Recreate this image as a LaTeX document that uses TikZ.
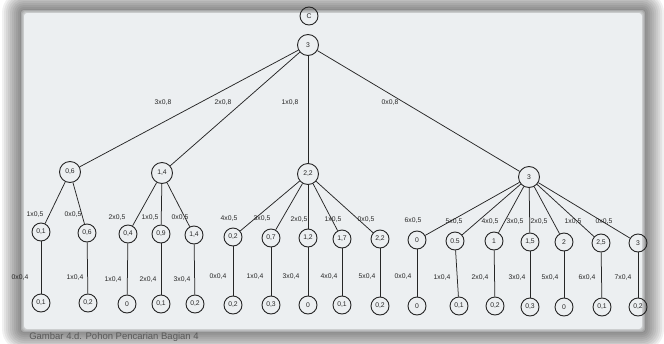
\documentclass[tikz,border=0pt]{standalone}
\usepackage{fontspec}
\setmainfont{Liberation Sans}
\definecolor{paper}{HTML}{ECEFF1}
\definecolor{ink}{HTML}{262626}
\begin{document}
\begin{tikzpicture}[x=1pt,y=-1pt,
  nd/.style={circle,draw=ink,line width=0.9pt,inner sep=0pt,minimum size=18pt,
    font=\fontsize{6.8}{7}\selectfont,text=ink},
  bignd/.style={nd,minimum size=21pt},
  ed/.style={draw=ink,line width=0.75pt},
  lb/.style={font=\fontsize{6.8}{7}\selectfont,text=ink,inner sep=0pt}]
\useasboundingbox (0,0) rectangle (664,343);
\fill[white] (0,0) rectangle (664,343);
\foreach \d in {22,20,...,2}
  \fill[black,opacity=0.055,rounded corners=\d pt] (24-\d,13-\d) rectangle (642+\d,329+\d);
\foreach \d in {1,2,3}
  \fill[paper,opacity=0.3,rounded corners=3pt] (24-\d,13-\d) rectangle (642+\d,329+\d);
\fill[paper,rounded corners=3pt] (24,13) rectangle (642,329);

% root
\node[nd,minimum size=18pt] (C) at (309,16) {C};
\node[bignd] (r) at (308,45) {3};
% level 1
\node[bignd] (a) at (70,172) {0,6};
\node[bignd] (b) at (162,173) {1,4};
\node[bignd] (c) at (308,174) {2,2};
\node[bignd] (d) at (529,177) {3};
% level 2
\node[nd] (a1) at (41,232) {0,1};
\node[nd] (a2) at (87,233) {0,6};
\node[nd] (b1) at (128,234) {0,4};
\node[nd] (b2) at (161,234) {0,9};
\node[nd] (b3) at (194,235) {1,4};
\node[nd] (c1) at (233,237) {0,2};
\node[nd] (c2) at (271,238) {0,7};
\node[nd] (c3) at (308,238) {1,2};
\node[nd] (c4) at (342,239) {1,7};
\node[nd] (c5) at (380,239) {2,2};
\node[nd] (d1) at (417,240) {0};
\node[nd] (d2) at (455,241) {0.5};
\node[nd] (d3) at (494,241) {1};
\node[nd] (d4) at (530,242) {1,5};
\node[nd] (d5) at (564,242) {2};
\node[nd] (d6) at (601,243) {2,5};
\node[nd] (d7) at (638,243) {3};
% level 3
\node[nd] (a1x) at (41,303) {0,1};
\node[nd] (a2x) at (88,303) {0,2};
\node[nd] (b1x) at (127,304) {0};
\node[nd] (b2x) at (161,304) {0,1};
\node[nd] (b3x) at (195,304) {0,2};
\node[nd] (c1x) at (233,305) {0,2};
\node[nd] (c2x) at (271,305) {0,3};
\node[nd] (c3x) at (308,305) {0};
\node[nd] (c4x) at (342,305) {0,1};
\node[nd] (c5x) at (380,306) {0,2};
\node[nd] (d1x) at (417,306) {0};
\node[nd] (d2x) at (459,306) {0,1};
\node[nd] (d3x) at (495,306) {0,2};
\node[nd] (d4x) at (530,307) {0,3};
\node[nd] (d5x) at (564,307) {0};
\node[nd] (d6x) at (602,307) {0,1};
\node[nd] (d7x) at (638,307) {0,2};

% edges level 1
\foreach \t in {a,b,c,d} \draw[ed] (r) -- (\t);
% edges level 2
\foreach \t in {a1,a2} \draw[ed] (a) -- (\t);
\foreach \t in {b1,b2,b3} \draw[ed] (b) -- (\t);
\foreach \t in {c1,c2,c3,c4,c5} \draw[ed] (c) -- (\t);
\foreach \t in {d1,d2,d3,d4,d5,d6,d7} \draw[ed] (d) -- (\t);
% edges level 3
\foreach \t in {a1,a2,b1,b2,b3,c1,c2,c3,c4,c5,d1,d2,d3,d4,d5,d6,d7}
  \draw[ed] (\t) -- (\t x);

% labels level 1
\node[lb] at (163,103) {3x0,8};
\node[lb] at (223,103) {2x0,8};
\node[lb] at (290,103) {1x0,8};
\node[lb] at (390,103) {0x0,8};
% labels level 2
\node[lb] at (35,215) {1x0,5};
\node[lb] at (73,215) {0x0,5};
\node[lb] at (117,218) {2x0,5};
\node[lb] at (150,218) {1x0,5};
\node[lb] at (180,218) {0x0,5};
\node[lb] at (229,219) {4x0,5};
\node[lb] at (262,219) {3x0,5};
\node[lb] at (299,220) {2x0,5};
\node[lb] at (333,220) {1x0,5};
\node[lb] at (366,220) {0x0,5};
\node[lb] at (413,221) {6x0,5};
\node[lb] at (454,222) {5x0,5};
\node[lb] at (490,222) {4x0,5};
\node[lb] at (515,222) {3x0,5};
\node[lb] at (539,222) {2x0,5};
\node[lb] at (573,222) {1x0,5};
\node[lb] at (604,222) {0x0,5};
% labels level 3
\node[lb] at (20,278) {0x0,4};
\node[lb] at (75,278) {1x0,4};
\node[lb] at (113,280) {1x0,4};
\node[lb] at (148,280) {2x0,4};
\node[lb] at (182,280) {3x0,4};
\node[lb] at (218,277) {0x0,4};
\node[lb] at (255,277) {1x0,4};
\node[lb] at (291,277) {3x0,4};
\node[lb] at (329,277) {4x0,4};
\node[lb] at (367,277) {5x0,4};
\node[lb] at (403,277) {0x0,4};
\node[lb] at (442,278) {1x0,4};
\node[lb] at (480,278) {2x0,4};
\node[lb] at (517,278) {3x0,4};
\node[lb] at (550,278) {5x0,4};
\node[lb] at (587,278) {6x0,4};
\node[lb] at (623,278) {7x0,4};

% caption
\node[font=\fontsize{9.5}{11}\selectfont,text=black!65,inner sep=0pt] (capt) at (114,337) {Gambar 4.d. Pohon Pencarian Bagian 4};
\end{tikzpicture}
\end{document}
